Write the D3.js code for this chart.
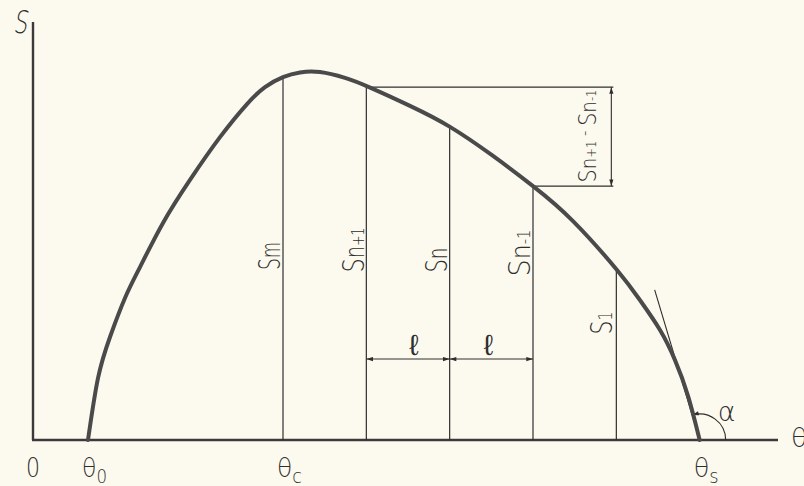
<!DOCTYPE html>
<html>
<head>
<meta charset="utf-8">
<script src="https://cdn.jsdelivr.net/npm/d3@7"></script>
<style>
    html, body { margin: 0; padding: 0; background: #fcfaef; }
    svg { display: block; }
    text { font-family: "DejaVu Sans", sans-serif; font-weight: 200; fill: #2e2e2e; }
</style>
</head>
<body>
<div id="chart"></div>
<script>
// S(theta) curve (theta in units of l, Sm ~ 100)
var curveTheta = [0.66, 0.78, 0.924, 1.104, 1.284, 1.56, 1.884, 2.244, 2.568, 2.784, 3.0, 3.204, 3.444, 3.744, 4.032, 4.524, 5.004, 5.508, 6.0, 6.48, 7.008, 7.284, 7.524, 7.704, 7.86, 8.0];
var curveS     = [0, 16.8, 28.0, 38.6, 47.0, 59.0, 70.7, 82.3, 91.3, 95.9, 98.6, 99.9, 100.0, 98.4, 95.9, 90.8, 85.1, 77.4, 69.0, 59.5, 46.2, 38.0, 29.9, 21.7, 12.0, 0];

// ordinates drawn under the curve
var ordTheta  = [3, 4, 5, 6, 7];
var ordS      = [98.6, 95.9, 85.1, 69.0, 46.2];
var ordMain   = ["S", "S", "S", "S", "S"];
var ordSub    = ["m", "n", "n", "n", "1"];
var ordSmall  = ["", "+1", "", "-1", ""];

// labels on the theta axis
var tickTheta = [0, 0.66, 3, 8];
var tickMain  = ["0", "θ", "θ", "θ"];
var tickSub   = ["", "0", "c", "s"];

var thetaMax = 8.94, sMax = 113.6;
var thetaS = 8;
var tangentTop = [7.46, 40.8];   // tangent to the curve at theta_s
var ellLevel = 22;               // height of the l dimension lines
var diffTheta = 6.94;            // where the Sn+1 - Sn-1 dimension stands

var w = 804, h = 486;

var x = d3.scaleLinear().domain([0, thetaMax]).range([33, 778]);
var y = d3.scaleLinear().domain([0, sMax]).range([440, 22]);

var svg = d3.select("#chart").append("svg")
    .attr("width", w)
    .attr("height", h);

var ink = "#2e2e2e";

// arrowhead marker
var defs = svg.append("defs");
defs.append("marker")
    .attr("id", "arr")
    .attr("viewBox", "0 0 8 6")
    .attr("refX", 8).attr("refY", 3)
    .attr("markerWidth", 8).attr("markerHeight", 5)
    .attr("markerUnits", "userSpaceOnUse")
    .attr("orient", "auto-start-reverse")
    .append("path")
    .attr("d", "M0,0.5 L8,3 L0,5.5 Z")
    .attr("fill", ink);

// axes
svg.append("line")
    .attr("x1", x(0)).attr("y1", y(0))
    .attr("x2", x(0)).attr("y2", y(sMax))
    .attr("stroke", "#3a3a3a").attr("stroke-width", 2.4);
svg.append("line")
    .attr("x1", x(0) - 1).attr("y1", y(0))
    .attr("x2", x(thetaMax)).attr("y2", y(0))
    .attr("stroke", "#3a3a3a").attr("stroke-width", 2.4);

// ordinates
svg.selectAll("line.ord")
    .data(ordTheta)
    .enter().append("line")
    .attr("class", "ord")
    .attr("x1", function(d) { return x(d); })
    .attr("x2", function(d) { return x(d); })
    .attr("y1", y(0))
    .attr("y2", function(d, i) { return y(ordS[i]); })
    .attr("stroke", ink).attr("stroke-width", 1.2);

// Sn+1 - Sn-1 construction
svg.append("line")
    .attr("x1", x(ordTheta[1])).attr("y1", y(ordS[1]))
    .attr("x2", x(diffTheta) + 2).attr("y2", y(ordS[1]))
    .attr("stroke", ink).attr("stroke-width", 1.2);
svg.append("line")
    .attr("x1", x(ordTheta[3])).attr("y1", y(ordS[3]))
    .attr("x2", x(diffTheta) + 2).attr("y2", y(ordS[3]))
    .attr("stroke", ink).attr("stroke-width", 1.2);
svg.append("line")
    .attr("x1", x(diffTheta)).attr("y1", y(ordS[1]))
    .attr("x2", x(diffTheta)).attr("y2", y(ordS[3]))
    .attr("stroke", ink).attr("stroke-width", 1.1)
    .attr("marker-start", "url(#arr)")
    .attr("marker-end", "url(#arr)");

// l dimensions
[[ordTheta[1], ordTheta[2]], [ordTheta[2], ordTheta[3]]].forEach(function(p, i) {
    svg.append("line")
        .attr("x1", x(p[0])).attr("y1", y(ellLevel))
        .attr("x2", x(p[1])).attr("y2", y(ellLevel))
        .attr("stroke", ink).attr("stroke-width", 1.1)
        .attr("marker-start", "url(#arr)")
        .attr("marker-end", "url(#arr)");
    svg.append("text")
        .attr("x", (x(p[0]) + x(p[1])) / 2 + (i === 0 ? 6 : -3))
        .attr("y", y(ellLevel) - 4)
        .attr("text-anchor", "middle")
        .attr("font-size", 29)
        .text("ℓ");
});

// tangent at theta_s and angle alpha
var tx0 = x(thetaS), ty0 = y(0);
svg.append("line")
    .attr("x1", tx0).attr("y1", ty0)
    .attr("x2", x(tangentTop[0])).attr("y2", y(tangentTop[1]))
    .attr("stroke", ink).attr("stroke-width", 1.1);

var ang = Math.atan2(-(y(tangentTop[1]) - ty0), x(tangentTop[0]) - tx0);
var arc = d3.path();
arc.arc(tx0, ty0, 26, 0, -ang, true);
svg.append("path")
    .attr("d", arc.toString())
    .attr("fill", "none")
    .attr("stroke", ink).attr("stroke-width", 1.1)
    .attr("marker-end", "url(#arr)");
svg.append("text")
    .attr("x", tx0 + 27).attr("y", ty0 - 19)
    .attr("text-anchor", "middle")
    .attr("font-size", 27)
    .text("α");

// the curve
var pts = curveTheta.map(function(t, i) { return [t, curveS[i]]; });
var line = d3.line()
    .x(function(d) { return x(d[0]); })
    .y(function(d) { return y(d[1]); })
    .curve(d3.curveNatural);
svg.append("path")
    .attr("d", line(pts))
    .attr("fill", "none")
    .attr("stroke", "#4a4a4a")
    .attr("stroke-width", 4)
    .attr("stroke-linecap", "round");

// squeeze a text to a given length (the lettering is narrow)
function squeeze(sel, len, tr) {
    var bw = sel.node().getBBox().width;
    sel.attr("transform", tr + " scale(" + (len / bw) + ",1)");
}

// rotated ordinate labels: baseline x offset, centre y, length
var ordLab = [[-3, 256, 28], [-2, 250, 45], [-3, 260, 25], [-3, 253, 47], [-4, 323, 23]];
ordTheta.forEach(function(t, i) {
    var tx = svg.append("text")
        .attr("text-anchor", "middle")
        .attr("font-size", 31);
    tx.append("tspan").text(ordMain[i]);
    tx.append("tspan").attr("font-size", ordSub[i] === "1" ? 20 : 27).text(ordSub[i]);
    if (ordSmall[i]) tx.append("tspan").attr("font-size", 17).text(ordSmall[i]);
    squeeze(tx, ordLab[i][2], "translate(" + (x(t) + ordLab[i][0]) + "," + ordLab[i][1] + ") rotate(-90)");
});

// Sn+1 - Sn-1 label
var dl = svg.append("text")
    .attr("text-anchor", "middle")
    .attr("font-size", 25);
dl.append("tspan").text("S");
dl.append("tspan").attr("font-size", 22).text("n");
dl.append("tspan").attr("font-size", 14).text("+1");
dl.append("tspan").attr("font-size", 18).attr("dy", -6).text(" - ");
dl.append("tspan").attr("dy", 6).text("S");
dl.append("tspan").attr("font-size", 22).text("n");
dl.append("tspan").attr("font-size", 14).text("-1");
squeeze(dl, 93, "translate(" + (x(diffTheta) - 15) + ",136) rotate(-90)");

// axis labels
tickTheta.forEach(function(t, i) {
    var tx = svg.append("text")
        .attr("font-size", 27);
    tx.append("tspan").text(tickMain[i]);
    if (tickSub[i]) tx.append("tspan").attr("font-size", 19).attr("dy", 6).text(tickSub[i]);
    var bw = tx.node().getBBox().width;
    var len = tickSub[i] ? 25 : 14;
    tx.attr("transform", "translate(" + (x(t) - 6 - (i === 0 ? 1 : 0)) + ",477) scale(" + (len / bw) + ",1)");
});

var sAx = svg.append("text").attr("font-size", 31).text("S");
squeeze(sAx, 14, "translate(13,33) skewX(-10)");

// axis name, partly cut by the right edge as in the drawing
svg.append("text")
    .attr("x", 791).attr("y", 447)
    .attr("font-size", 27)
    .text("θ");
</script>
</body>
</html>
